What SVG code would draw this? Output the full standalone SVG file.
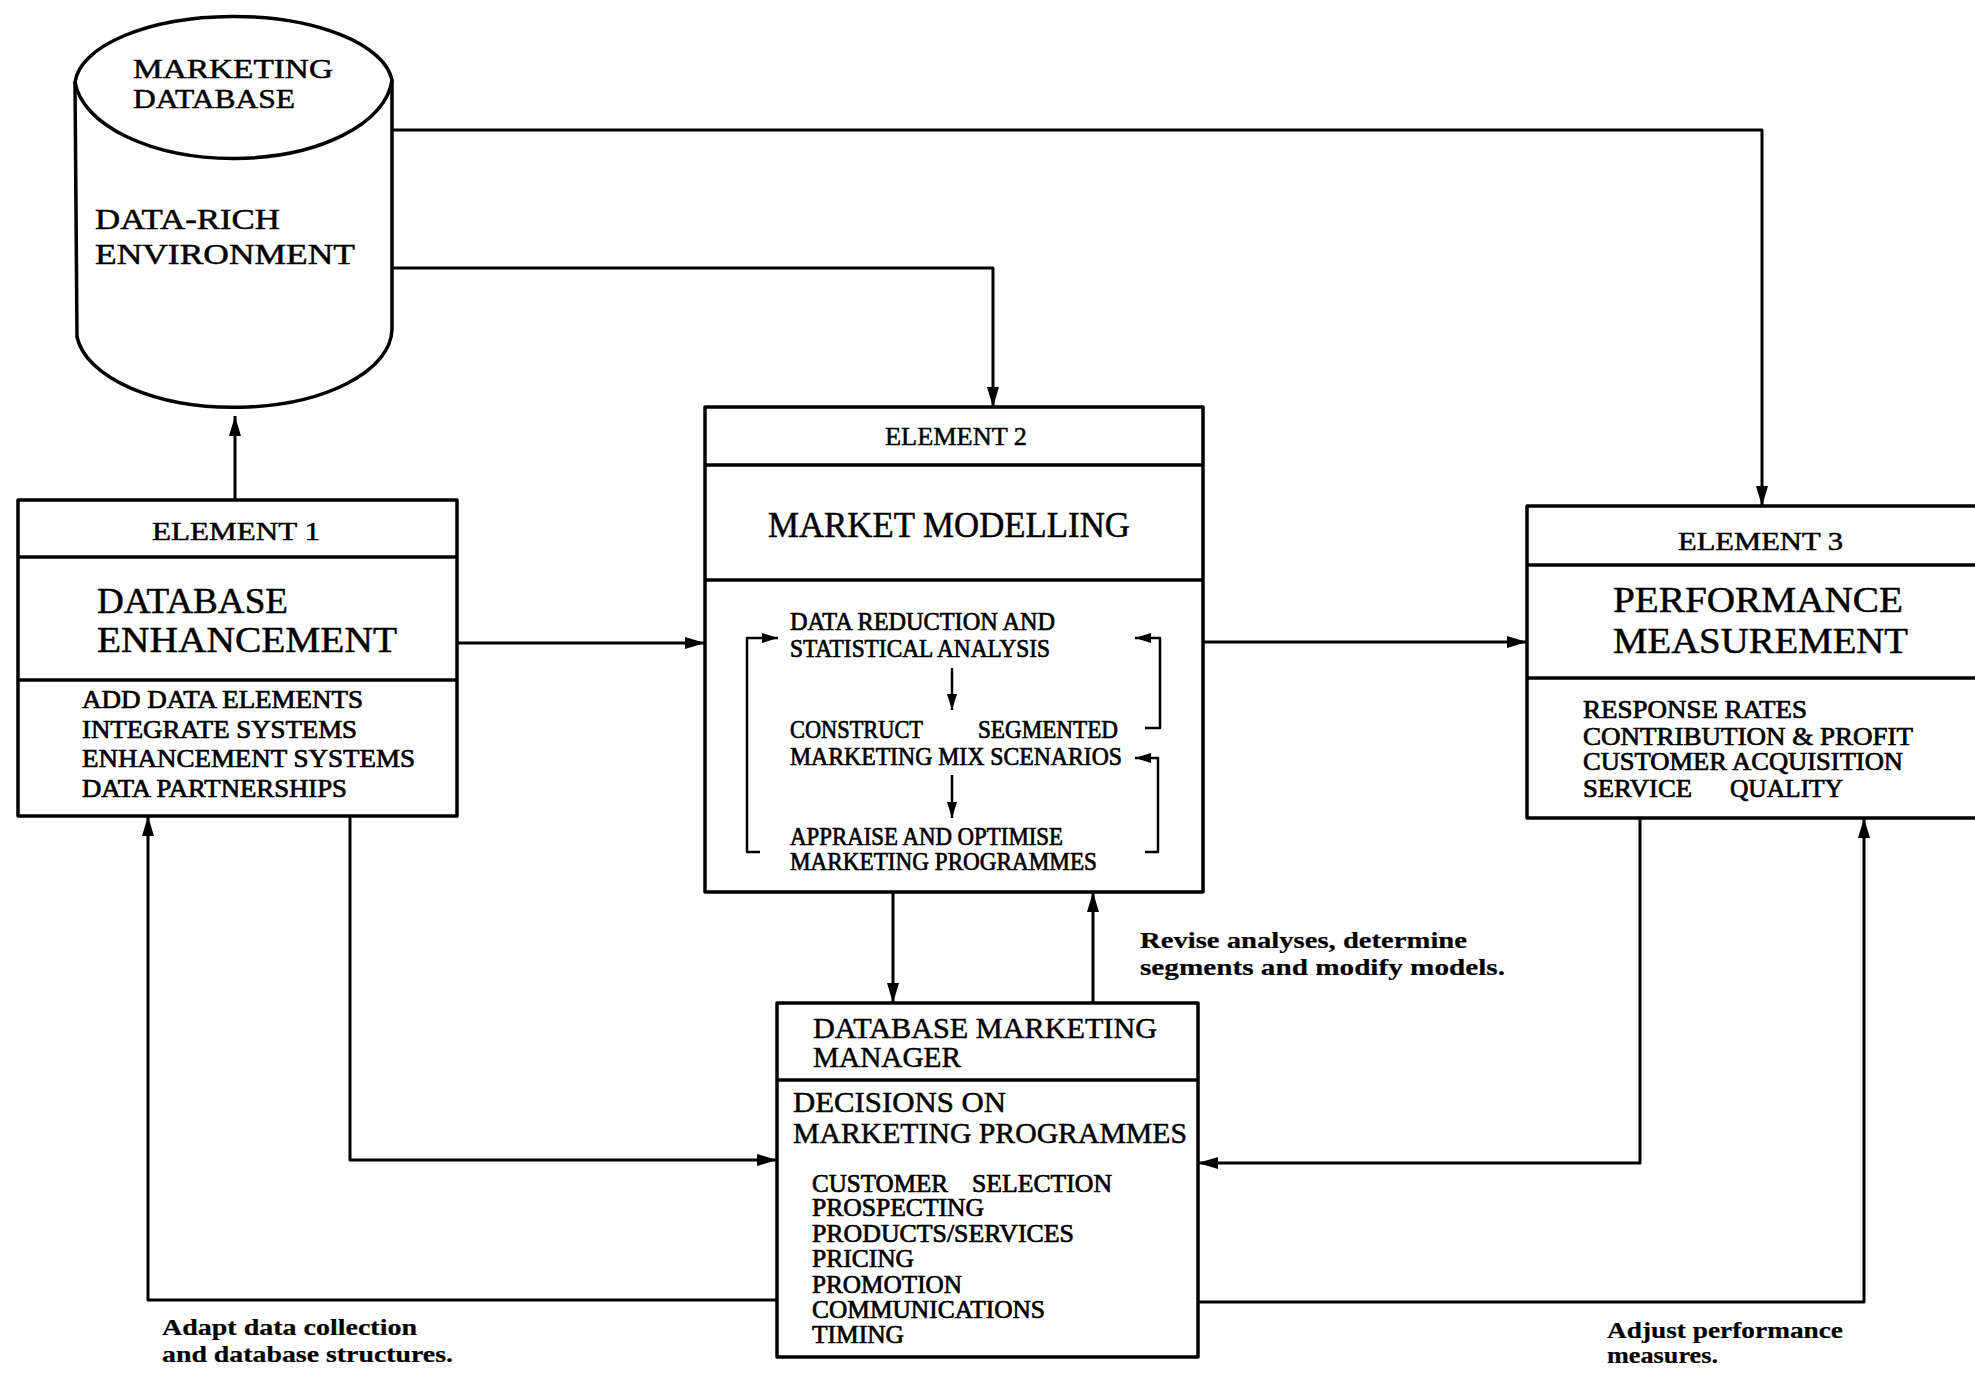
<svg xmlns="http://www.w3.org/2000/svg" width="1975" height="1376" viewBox="0 0 1975 1376">
  <style>
    .box { fill: none; stroke: #000; stroke-width: 3.5; stroke-linejoin: round; }
    .div { stroke: #000; stroke-width: 3.5; fill: none; }
    .wire { fill: none; stroke: #000; stroke-width: 3; stroke-linejoin: round; }
    .wire2 { fill: none; stroke: #000; stroke-width: 2.5; stroke-linejoin: round; }
    text { font-family: "Liberation Serif", "Times New Roman", serif; fill: #000; stroke: #000; stroke-width: 0.5; }
    .hdr { font-size: 26px; }
    .ttl { font-size: 36px; }
    .lst { font-size: 25px; stroke-width: 0.7; }
    .sub { font-size: 29px; }
    .lbl { font-size: 23px; font-weight: bold; stroke-width: 0.2; }
  </style>
  <defs>
    <marker id="arr" viewBox="0 0 20 12" refX="20" refY="6" markerWidth="20" markerHeight="12" markerUnits="userSpaceOnUse" orient="auto">
      <path d="M0,0 L20,6 L0,12 Z" fill="#000"/>
    </marker>
    <marker id="arrS" viewBox="0 0 16 10" refX="16" refY="5" markerWidth="16" markerHeight="10" markerUnits="userSpaceOnUse" orient="auto">
      <path d="M0,0 L16,5 L0,10 Z" fill="#000"/>
    </marker>
  </defs>
  <rect width="1975" height="1376" fill="#fff"/>

  <!-- Marketing database cylinder -->
  <g id="marketing-database">
    <path class="box" d="M75,82 A159,70 0 0 1 392,80 A159,84 0 0 1 75,82 Z"/>
    <path class="box" d="M75,82 L77,337 A158,79 0 0 0 392,330 L392,80"/>
    <text x="133" y="78" font-size="27" textLength="200" lengthAdjust="spacingAndGlyphs">MARKETING</text>
    <text x="133" y="108" font-size="27" textLength="162" lengthAdjust="spacingAndGlyphs">DATABASE</text>
    <text x="95" y="229" font-size="29" textLength="185" lengthAdjust="spacingAndGlyphs">DATA-RICH</text>
    <text x="95" y="264" font-size="29" textLength="260" lengthAdjust="spacingAndGlyphs">ENVIRONMENT</text>
  </g>

  <!-- Element 1 -->
  <g id="element-1">
    <rect class="box" x="18" y="500" width="439" height="316"/>
    <line class="div" x1="18" y1="557" x2="457" y2="557"/>
    <line class="div" x1="18" y1="680" x2="457" y2="680"/>
    <text class="hdr" x="152" y="540" textLength="168" lengthAdjust="spacingAndGlyphs">ELEMENT 1</text>
    <text class="ttl" x="97" y="613" textLength="191" lengthAdjust="spacingAndGlyphs">DATABASE</text>
    <text class="ttl" x="97" y="652" textLength="300" lengthAdjust="spacingAndGlyphs">ENHANCEMENT</text>
    <text class="lst" x="82" y="708" textLength="281" lengthAdjust="spacingAndGlyphs">ADD DATA ELEMENTS</text>
    <text class="lst" x="82" y="738" textLength="275" lengthAdjust="spacingAndGlyphs">INTEGRATE SYSTEMS</text>
    <text class="lst" x="82" y="767" textLength="333" lengthAdjust="spacingAndGlyphs">ENHANCEMENT SYSTEMS</text>
    <text class="lst" x="82" y="797" textLength="265" lengthAdjust="spacingAndGlyphs">DATA PARTNERSHIPS</text>
  </g>

  <!-- Element 2 -->
  <g id="element-2">
    <rect class="box" x="705" y="407" width="498" height="485"/>
    <line class="div" x1="705" y1="465" x2="1203" y2="465"/>
    <line class="div" x1="705" y1="580" x2="1203" y2="580"/>
    <text class="hdr" x="885" y="445" textLength="142" lengthAdjust="spacingAndGlyphs">ELEMENT 2</text>
    <text class="ttl" x="768" y="537" textLength="362" lengthAdjust="spacingAndGlyphs">MARKET  MODELLING</text>
    <text class="lst" x="790" y="630" textLength="265" lengthAdjust="spacingAndGlyphs">DATA REDUCTION AND</text>
    <text class="lst" x="790" y="657" textLength="260" lengthAdjust="spacingAndGlyphs">STATISTICAL ANALYSIS</text>
    <text class="lst" x="790" y="738" textLength="133" lengthAdjust="spacingAndGlyphs">CONSTRUCT</text>
    <text class="lst" x="978" y="738" textLength="140" lengthAdjust="spacingAndGlyphs">SEGMENTED</text>
    <text class="lst" x="790" y="765" textLength="332" lengthAdjust="spacingAndGlyphs">MARKETING MIX SCENARIOS</text>
    <text class="lst" x="790" y="845" textLength="273" lengthAdjust="spacingAndGlyphs">APPRAISE AND OPTIMISE</text>
    <text class="lst" x="790" y="870" textLength="307" lengthAdjust="spacingAndGlyphs">MARKETING PROGRAMMES</text>
    <!-- internal flow and feedback brackets -->
    <path class="wire2" d="M952,668 V710" marker-end="url(#arrS)"/>
    <path class="wire2" d="M952,775 V818" marker-end="url(#arrS)"/>
    <path class="wire2" d="M760,852 H747 V638 H778" marker-end="url(#arrS)"/>
    <path class="wire2" d="M1145,728 H1160 V638 H1135" marker-end="url(#arrS)"/>
    <path class="wire2" d="M1145,852 H1158 V758 H1135" marker-end="url(#arrS)"/>
  </g>

  <!-- Element 3 -->
  <g id="element-3">
    <rect class="box" x="1527" y="506" width="500" height="312"/>
    <line class="div" x1="1527" y1="565" x2="1980" y2="565"/>
    <line class="div" x1="1527" y1="678" x2="1980" y2="678"/>
    <text class="hdr" x="1678" y="550" textLength="165" lengthAdjust="spacingAndGlyphs">ELEMENT 3</text>
    <text class="ttl" x="1613" y="612" textLength="290" lengthAdjust="spacingAndGlyphs">PERFORMANCE</text>
    <text class="ttl" x="1613" y="653" textLength="295" lengthAdjust="spacingAndGlyphs">MEASUREMENT</text>
    <text class="lst" x="1583" y="718" textLength="224" lengthAdjust="spacingAndGlyphs">RESPONSE RATES</text>
    <text class="lst" x="1583" y="745" textLength="330" lengthAdjust="spacingAndGlyphs">CONTRIBUTION &amp; PROFIT</text>
    <text class="lst" x="1583" y="770" textLength="320" lengthAdjust="spacingAndGlyphs">CUSTOMER ACQUISITION</text>
    <text class="lst" x="1583" y="797" textLength="109" lengthAdjust="spacingAndGlyphs">SERVICE</text>
    <text class="lst" x="1730" y="797" textLength="113" lengthAdjust="spacingAndGlyphs">QUALITY</text>
  </g>

  <!-- Database marketing manager -->
  <g id="dbm-manager">
    <rect class="box" x="777" y="1003" width="421" height="354"/>
    <line class="div" x1="777" y1="1080" x2="1198" y2="1080"/>
    <text class="sub" x="813" y="1038" textLength="344" lengthAdjust="spacingAndGlyphs">DATABASE  MARKETING</text>
    <text class="sub" x="813" y="1067" textLength="148" lengthAdjust="spacingAndGlyphs">MANAGER</text>
    <text class="sub" x="793" y="1112" textLength="213" lengthAdjust="spacingAndGlyphs">DECISIONS  ON</text>
    <text class="sub" x="793" y="1143" textLength="394" lengthAdjust="spacingAndGlyphs">MARKETING PROGRAMMES</text>
    <text class="lst" x="812" y="1192" textLength="136" lengthAdjust="spacingAndGlyphs">CUSTOMER</text>
    <text class="lst" x="972" y="1192" textLength="140" lengthAdjust="spacingAndGlyphs">SELECTION</text>
    <text class="lst" x="812" y="1216" textLength="172" lengthAdjust="spacingAndGlyphs">PROSPECTING</text>
    <text class="lst" x="812" y="1242" textLength="262" lengthAdjust="spacingAndGlyphs">PRODUCTS/SERVICES</text>
    <text class="lst" x="812" y="1267" textLength="102" lengthAdjust="spacingAndGlyphs">PRICING</text>
    <text class="lst" x="812" y="1293" textLength="150" lengthAdjust="spacingAndGlyphs">PROMOTION</text>
    <text class="lst" x="812" y="1318" textLength="233" lengthAdjust="spacingAndGlyphs">COMMUNICATIONS</text>
    <text class="lst" x="812" y="1343" textLength="92" lengthAdjust="spacingAndGlyphs">TIMING</text>
  </g>

  <!-- Connectors -->
  <g id="connectors">
    <path class="wire" d="M392,130 H1762 V506" marker-end="url(#arr)"/>
    <path class="wire" d="M392,268 H993 V407" marker-end="url(#arr)"/>
    <path class="wire" d="M235,500 V416" marker-end="url(#arr)"/>
    <path class="wire" d="M457,643 H705" marker-end="url(#arr)"/>
    <path class="wire" d="M1203,642 H1527" marker-end="url(#arr)"/>
    <path class="wire" d="M893,892 V1003" marker-end="url(#arr)"/>
    <path class="wire" d="M1093,1003 V892" marker-end="url(#arr)"/>
    <path class="wire" d="M350,816 V1160 H777" marker-end="url(#arr)"/>
    <path class="wire" d="M1640,818 V1163 H1198" marker-end="url(#arr)"/>
    <path class="wire" d="M777,1300 H148 V816" marker-end="url(#arr)"/>
    <path class="wire" d="M1198,1302 H1864 V818" marker-end="url(#arr)"/>
  </g>

  <!-- Connector labels -->
  <g id="labels">
    <text class="lbl" x="1140" y="948" textLength="327" lengthAdjust="spacingAndGlyphs">Revise analyses, determine</text>
    <text class="lbl" x="1140" y="975" textLength="365" lengthAdjust="spacingAndGlyphs">segments and modify models.</text>
    <text class="lbl" x="162" y="1335" textLength="255" lengthAdjust="spacingAndGlyphs">Adapt data collection</text>
    <text class="lbl" x="162" y="1362" textLength="291" lengthAdjust="spacingAndGlyphs">and database structures.</text>
    <text class="lbl" x="1607" y="1338" textLength="236" lengthAdjust="spacingAndGlyphs">Adjust performance</text>
    <text class="lbl" x="1607" y="1363" textLength="111" lengthAdjust="spacingAndGlyphs">measures.</text>
  </g>
</svg>
